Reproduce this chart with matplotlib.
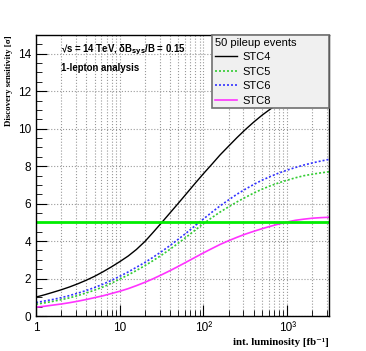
import numpy as np
import matplotlib
matplotlib.use('Agg')
import matplotlib.pyplot as plt
from matplotlib.ticker import LogLocator, MultipleLocator, FixedLocator, NullFormatter

# --- Data (sensitivity in sigma vs int. luminosity in fb^-1) ---
lumi = [1, 1.26, 1.58, 2.0, 2.51, 3.16, 3.98, 5.01, 6.31, 7.94,
        10, 12.6, 15.8, 20, 25.1, 31.6, 39.8, 50.1, 63.1, 79.4,
        100, 126, 158, 200, 251, 316, 398, 501, 631, 794,
        1000, 1259, 1585, 1995, 2512, 3162]
stc4 = [1.01, 1.13, 1.26, 1.40, 1.55, 1.72, 1.91, 2.12, 2.36, 2.62,
        2.9, 3.2, 3.55, 3.98, 4.47, 4.98, 5.5, 6.02, 6.55, 7.08,
        7.6, 8.1, 8.6, 9.07, 9.52, 9.95, 10.35, 10.72, 11.05, 11.35,
        11.62, 11.86, 12.08, 12.27, 12.44, 12.58]
stc5 = [0.63, 0.7, 0.78, 0.87, 0.97, 1.09, 1.23, 1.38, 1.55, 1.75,
        1.97, 2.19, 2.43, 2.69, 2.96, 3.25, 3.56, 3.89, 4.23, 4.58,
        4.93, 5.25, 5.55, 5.83, 6.09, 6.33, 6.56, 6.77, 6.95, 7.11,
        7.25, 7.38, 7.49, 7.57, 7.64, 7.7]
stc6 = [0.72, 0.8, 0.88, 0.98, 1.09, 1.22, 1.36, 1.52, 1.7, 1.9,
        2.12, 2.35, 2.6, 2.86, 3.14, 3.44, 3.76, 4.1, 4.45, 4.82,
        5.18, 5.54, 5.88, 6.2, 6.5, 6.77, 7.02, 7.25, 7.45, 7.63,
        7.79, 7.93, 8.06, 8.17, 8.27, 8.36]
stc8 = [0.47, 0.52, 0.58, 0.64, 0.71, 0.79, 0.88, 0.98, 1.08, 1.2,
        1.32, 1.46, 1.62, 1.8, 1.99, 2.2, 2.42, 2.65, 2.89, 3.13,
        3.37, 3.6, 3.82, 4.02, 4.2, 4.37, 4.52, 4.66, 4.79, 4.91,
        5.02, 5.11, 5.17, 5.22, 5.25, 5.27]
discovery = 5
xtick_pos = [1, 10, 100, 1000]
xtick_labels = ['1', '10', '10²', '10³']

sans = ['Liberation Sans', 'DejaVu Sans']
serif = ['Liberation Serif', 'DejaVu Serif']

fig = plt.figure(figsize=(3.66, 3.51), dpi=100)
ax = fig.add_axes([0.0984, 0.0997, 0.8006, 0.8006])

ax.plot(lumi, stc4, color='black', lw=1.0, label='STC4')
ax.plot(lumi, stc5, color='#33cc33', lw=1.2, ls=(0, (1.2, 1.2)), label='STC5')
ax.plot(lumi, stc6, color='#3333ff', lw=1.2, ls=(0, (1.2, 1.2)), label='STC6')
ax.plot(lumi, stc8, color='#ff33ff', lw=1.2, label='STC8')
ax.axhline(discovery, color='#00ee00', lw=2.0)

ax.set_xscale('log')
ax.set_xlim(1, 3160)
ax.set_ylim(0, 15)

# ticks, ROOT style
ax.xaxis.set_major_locator(FixedLocator(xtick_pos))
ax.xaxis.set_minor_locator(LogLocator(base=10, subs=np.arange(2, 10)))
ax.xaxis.set_minor_formatter(NullFormatter())
ax.set_xticklabels(xtick_labels)
ax.yaxis.set_major_locator(MultipleLocator(2))
ax.yaxis.set_minor_locator(MultipleLocator(0.5))
ax.tick_params(which='both', direction='in', top=False, right=False)
ax.tick_params(which='major', length=8, width=0.8, labelsize=8.5)
ax.tick_params(which='minor', length=4, width=0.6)
for lab in ax.get_xticklabels() + ax.get_yticklabels():
    lab.set_family(sans)
ax.tick_params(axis='x', pad=4)

ax.grid(True, which='major', color='#999999', ls=':', lw=0.8)
ax.grid(True, axis='x', which='minor', color='#999999', ls=':', lw=0.8)
ax.set_axisbelow(True)

ax.set_xlabel('int. luminosity [fb⁻¹]', family=serif, fontweight='bold', fontsize=7.8)
ax.xaxis.set_label_coords(1.0, -0.093)
ax.xaxis.label.set_horizontalalignment('right')
ax.xaxis.label.set_verticalalignment('center')
ax.set_ylabel('Discovery sensitivity [σ]', family=serif, fontweight='bold', fontsize=6.4)
ax.yaxis.set_label_coords(-0.092, 1.0)
ax.yaxis.label.set_verticalalignment('center')
ax.yaxis.label.set_horizontalalignment('right')

ax.text(0.085, 0.947, '√s = 14 TeV, δB$_{\\mathbf{sys}}$/B = 0.15', transform=ax.transAxes,
        family=sans, fontweight='bold', fontsize=6.9, va='center')
ax.text(0.085, 0.881, '1-lepton analysis', transform=ax.transAxes,
        family=sans, fontweight='bold', fontsize=6.9, va='center')

leg = ax.legend(title='50 pileup events', loc='upper left', bbox_to_anchor=(0.60, 0.74, 0.40, 0.26),
                mode='expand', fancybox=False, framealpha=1, facecolor='#f0f0f0', edgecolor='#707070',
                prop={'family': sans, 'size': 8}, title_fontproperties={'family': sans, 'size': 8},
                handlelength=2.0, labelspacing=0.4, borderpad=0.25, handletextpad=0.5, borderaxespad=0,
                alignment='left')
leg.get_frame().set_linewidth(1.2)

for s in ax.spines.values():
    s.set_linewidth(1.0)

fig.savefig('out.png', dpi=100)
